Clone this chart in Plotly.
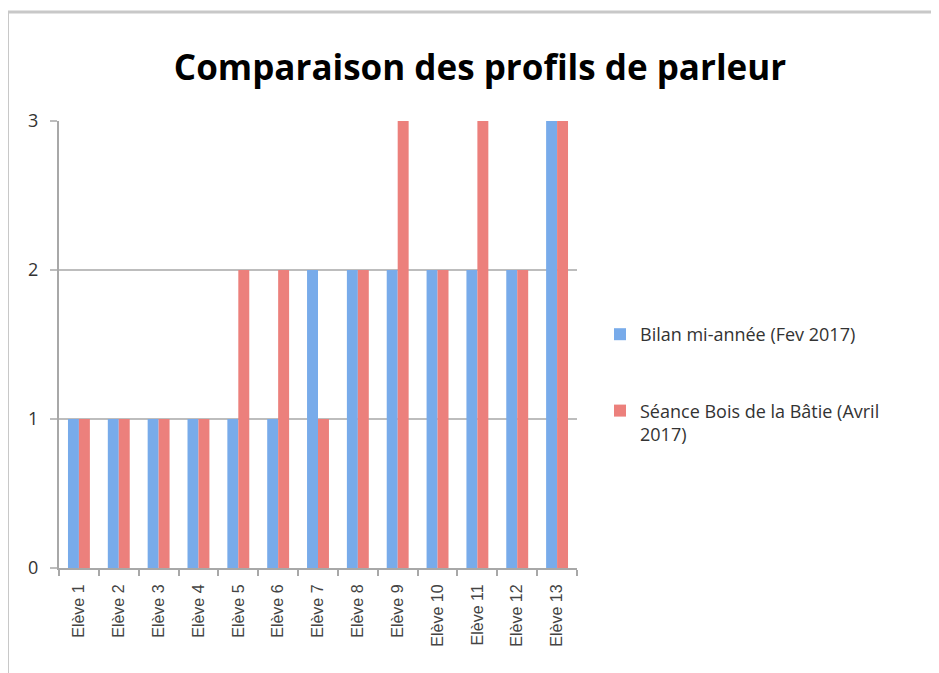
import plotly.graph_objects as go

categories = [f"Elève {i}" for i in range(1, 14)]
bilan = [1, 1, 1, 1, 1, 1, 2, 2, 2, 2, 2, 2, 3]
seance = [1, 1, 1, 1, 2, 2, 1, 2, 3, 2, 3, 2, 3]
series_names = ["Bilan mi-année (Fev 2017)", "Séance Bois de la Bâtie (Avril<br>2017)"]
y_ticks = [0, 1, 2, 3]

OFF = 8  # page body margin
W, H = 939 - OFF, 673 - OFF
# plot area in page pixels
PX0, PX1, PY0, PY1 = 59, 577, 121, 568
L, R, T, B = PX0 - OFF, 939 - PX1, PY0 - OFF, 673 - PY1
pw, ph = PX1 - PX0, PY1 - PY0

def px_x(p):
    return (p - PX0) / pw

def px_y(p):
    return (PY1 - p) / ph

fig = go.Figure()
fig.add_trace(go.Bar(x=categories, y=bilan, name=series_names[0],
                     marker=dict(color="#78ABEA", line=dict(width=0)),
                     legendgroup="a"))
fig.add_trace(go.Bar(x=categories, y=seance, name=series_names[1],
                     marker=dict(color="#EC807C", line=dict(width=0)),
                     legendgroup="b"))

fig.update_layout(
    width=W, height=H,
    margin=dict(l=L, r=R, t=T, b=B),
    paper_bgcolor="white", plot_bgcolor="white",
    barmode="group", bargap=0.45, bargroupgap=0,
    title=dict(text="<b>Comparaison des profils de parleur</b>",
               x=(480 - OFF) / W, xanchor="center", y=1 - (68 - OFF) / H, yanchor="middle",
               font=dict(family="Open Sans, sans-serif", size=35, color="black")),
    legend=dict(x=px_x(600), y=px_y(316), xanchor="left", yanchor="top",
                font=dict(family="Open Sans, sans-serif", size=18, color="#333"),
                tracegroupgap=50, traceorder="grouped", itemwidth=30, valign="top"),
    showlegend=True,
    font=dict(family="Liberation Sans, Arial", color="#333"),
)
fig.update_xaxes(
    type="category", showline=True, linecolor="#A8A8A8", linewidth=2,
    ticks="outside", tickson="boundaries", ticklen=6, tickcolor="#A8A8A8", tickwidth=2,
    tickangle=-90, tickfont=dict(family="Liberation Sans, Arial", size=16, color="#444"),
    showgrid=False, ticklabelstandoff=8,
)
fig.update_yaxes(
    range=[0, 3], tickvals=y_ticks, showline=True, linecolor="#A8A8A8", linewidth=2,
    showgrid=True, gridcolor="#BDBDBD", gridwidth=2,
    ticks="outside", ticklen=7, tickcolor="#BDBDBD", tickwidth=2,
    tickfont=dict(family="Open Sans, sans-serif", size=18, color="#333"),
    zeroline=False, ticklabelstandoff=8,
)

# outer chart frame
fig.add_shape(type="line", xref="paper", yref="paper",
              x0=px_x(OFF), x1=px_x(945), y0=px_y(12), y1=px_y(12),
              line=dict(color="#C8C8C8", width=3))
fig.add_shape(type="line", xref="paper", yref="paper",
              x0=px_x(OFF), x1=px_x(OFF), y0=px_y(12), y1=px_y(680),
              line=dict(color="#C8C8C8", width=2))

fig.write_html("out.html")
